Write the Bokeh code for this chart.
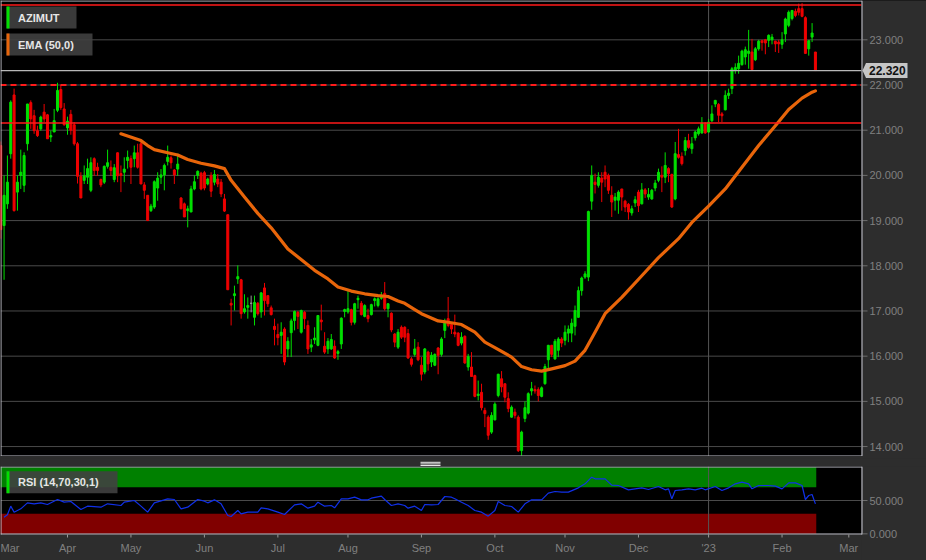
from bokeh.core.properties import value
from bokeh.embed import file_html
from bokeh.layouts import column
from bokeh.models import ColumnDataSource, Label, Range1d, Span
from bokeh.plotting import figure
from bokeh.resources import INLINE

# ---------------------------------------------------------------- data
# x is the trading-day index, 0 = 1 Mar 2022 (Borsa Italiana sessions)
first_idx = 3

opens = [
    20.66, 18.89, 19.37, 20.48, 21.78, 19.63, 20.00, 19.78, 20.70, 21.61,
    21.32, 20.99, 21.03, 21.40, 21.34, 20.85, 20.96, 21.44, 21.90, 21.47,
    21.05, 21.35, 21.12, 20.70, 19.98, 19.89, 19.96, 19.67, 20.37, 20.18,
    19.91, 19.85, 20.20, 20.18, 19.91, 20.50, 20.04, 20.07, 20.33, 20.37,
    20.37, 20.50, 20.70, 19.79, 19.56, 19.22, 19.30, 19.72, 19.96, 20.01,
    20.31, 20.39, 20.12, 20.14, 19.50, 19.37, 19.22, 19.19, 19.70, 20.00,
    20.05, 20.06, 19.81, 20.00, 19.85, 19.92, 19.85, 19.48, 19.13, 17.17,
    17.34, 17.71, 17.69, 16.98, 17.08, 17.17, 16.86, 17.17, 16.98, 17.51,
    17.34, 17.07, 16.66, 16.48, 16.46, 16.60, 16.16, 16.52, 16.79, 16.97,
    16.53, 16.97, 16.68, 16.20, 16.36, 16.24, 16.80, 16.22, 16.16, 16.16,
    16.22, 16.06, 16.27, 16.99, 16.98, 17.03, 16.75, 17.25, 17.17, 16.88,
    16.90, 16.92, 17.23, 17.12, 17.28, 17.39, 17.05, 16.95, 16.49, 16.20,
    16.64, 16.64, 16.50, 15.94, 16.04, 16.20, 15.80, 15.65, 16.09, 15.87,
    15.80, 16.18, 16.04, 16.57, 16.83, 16.70, 16.53, 16.51, 16.29, 16.44,
    15.76, 15.76, 15.57, 15.13, 15.20, 14.80, 14.65, 14.32, 14.59, 15.13,
    15.50, 15.39, 15.06, 14.65, 14.76, 14.65, 13.91, 14.62, 14.74, 15.23,
    15.26, 15.26, 15.11, 15.39, 15.92, 16.24, 15.94, 16.13, 16.38, 16.35,
    16.51, 16.51, 16.66, 16.86, 17.45, 17.75, 17.75, 19.43, 19.85, 19.78,
    19.94, 20.07, 20.00, 19.56, 19.45, 19.45, 19.70, 19.43, 19.36, 19.17,
    19.39, 19.63, 19.37, 19.68, 19.52, 19.48, 19.72, 19.89, 20.00, 19.96,
    20.15, 20.02, 19.48, 20.46, 20.42, 20.55, 20.77, 20.59, 20.83, 20.92,
    20.94, 21.16, 20.96, 21.21, 21.58, 21.57, 21.36, 21.45, 21.77, 21.92,
    22.32, 22.36, 22.45, 22.62, 22.70, 22.73, 22.56, 22.80, 22.98, 23.00,
    22.99, 23.00, 22.97, 22.95, 22.90, 23.13, 23.32, 23.47, 23.63, 23.69,
    23.69, 23.49, 22.80, 23.06, 22.73,
]
highs = [
    20.75, 20.00, 20.44, 21.66, 21.92, 20.00, 20.57, 20.51, 21.58, 21.66,
    21.45, 21.10, 21.32, 21.58, 21.36, 20.99, 21.47, 22.05, 22.00, 21.60,
    21.30, 21.45, 21.18, 20.74, 20.07, 20.22, 20.37, 20.40, 20.40, 20.28,
    19.93, 20.22, 20.57, 20.33, 20.25, 20.51, 20.22, 20.40, 20.55, 20.44,
    20.66, 20.70, 20.74, 19.85, 19.56, 19.37, 19.89, 20.07, 20.14, 20.26,
    20.66, 20.44, 20.14, 20.48, 19.52, 19.40, 19.33, 19.77, 20.00, 20.11,
    20.08, 20.10, 19.95, 20.07, 20.12, 20.03, 19.92, 19.59, 19.13, 17.27,
    17.56, 18.01, 17.71, 17.37, 17.30, 17.34, 17.34, 17.20, 17.42, 17.62,
    17.34, 17.12, 16.83, 16.72, 16.75, 16.64, 16.42, 16.83, 17.01, 17.00,
    17.03, 17.00, 16.79, 16.38, 16.64, 16.90, 17.14, 16.53, 16.40, 16.49,
    16.35, 16.14, 16.86, 17.05, 17.44, 17.05, 17.18, 17.34, 17.22, 17.15,
    17.05, 17.16, 17.30, 17.30, 17.42, 17.64, 17.17, 16.97, 16.51, 16.60,
    16.68, 16.66, 16.60, 15.98, 16.38, 16.31, 15.98, 16.18, 16.12, 16.09,
    16.06, 16.20, 16.42, 16.83, 17.31, 16.75, 16.92, 16.53, 16.53, 16.46,
    16.05, 16.09, 15.59, 15.46, 15.39, 14.86, 14.69, 14.76, 14.98, 15.61,
    15.67, 15.39, 15.20, 14.91, 14.84, 14.69, 14.35, 15.00, 15.20, 15.43,
    15.35, 15.31, 15.33, 15.83, 16.25, 16.25, 16.38, 16.42, 16.42, 16.68,
    16.68, 16.83, 17.12, 17.54, 17.76, 17.88, 19.22, 20.22, 20.04, 20.07,
    20.07, 20.22, 20.04, 19.76, 19.61, 19.67, 19.70, 19.46, 19.39, 19.33,
    19.54, 19.68, 19.83, 19.72, 19.72, 19.70, 19.90, 20.15, 20.20, 20.51,
    20.18, 20.04, 20.74, 21.03, 20.51, 20.85, 20.92, 20.85, 20.99, 21.08,
    21.29, 21.18, 21.25, 21.55, 21.67, 21.60, 21.40, 21.88, 21.92, 22.40,
    22.48, 22.65, 22.78, 22.85, 23.22, 23.02, 22.84, 23.00, 23.00, 23.02,
    23.12, 23.13, 22.98, 23.00, 23.17, 23.49, 23.65, 23.66, 23.69, 23.80,
    23.81, 23.52, 22.99, 23.37, 22.73,
]
lows = [
    18.60, 17.69, 19.26, 20.37, 19.20, 19.22, 19.70, 19.63, 20.55, 21.03,
    20.92, 20.85, 20.99, 21.18, 20.81, 20.74, 20.96, 21.40, 21.45, 21.10,
    20.90, 20.90, 20.66, 19.82, 19.50, 19.81, 19.81, 19.63, 19.99, 19.99,
    19.74, 19.81, 20.15, 19.99, 19.85, 19.85, 19.63, 19.85, 20.15, 19.81,
    20.18, 20.15, 19.81, 19.48, 19.00, 19.19, 19.26, 19.44, 19.81, 19.67,
    20.22, 20.15, 19.81, 19.99, 19.26, 19.08, 18.85, 19.19, 19.67, 19.92,
    19.67, 19.67, 19.78, 19.52, 19.78, 19.74, 19.52, 19.19, 17.47, 16.68,
    17.01, 17.60, 16.83, 16.94, 16.83, 16.97, 16.68, 16.90, 16.85, 16.90,
    17.09, 16.90, 16.24, 16.24, 16.05, 15.80, 15.98, 15.98, 16.57, 16.60,
    16.50, 16.60, 16.05, 16.09, 16.27, 16.22, 16.57, 16.05, 16.05, 16.14,
    15.94, 15.92, 16.16, 16.86, 16.94, 16.68, 16.70, 17.05, 16.90, 16.86,
    16.75, 16.90, 17.10, 17.08, 17.25, 17.01, 16.86, 16.53, 16.20, 16.16,
    16.38, 16.31, 15.94, 15.77, 15.99, 15.89, 15.46, 15.60, 15.68, 15.76,
    15.78, 15.60, 15.99, 16.40, 16.64, 16.49, 16.42, 16.22, 16.24, 15.83,
    15.68, 15.54, 15.09, 15.02, 14.80, 14.43, 14.15, 14.28, 14.58, 15.09,
    15.20, 14.98, 14.76, 14.64, 14.62, 13.88, 13.80, 14.54, 14.71, 15.13,
    15.17, 15.00, 15.09, 15.37, 15.72, 15.98, 15.92, 15.98, 16.20, 16.24,
    16.31, 16.31, 16.46, 16.85, 17.34, 17.71, 17.66, 19.24, 19.60, 19.73,
    19.41, 19.74, 19.59, 19.08, 19.22, 19.15, 19.22, 19.19, 19.02, 19.11,
    19.30, 19.19, 19.36, 19.50, 19.46, 19.46, 19.65, 19.85, 19.63, 19.83,
    19.85, 19.28, 19.45, 20.37, 20.22, 20.44, 20.59, 20.48, 20.77, 20.88,
    20.92, 20.92, 20.94, 21.18, 21.51, 21.18, 21.18, 21.44, 21.69, 21.80,
    22.25, 22.25, 22.43, 22.45, 22.36, 22.32, 22.53, 22.76, 22.76, 22.68,
    22.84, 22.90, 22.73, 22.71, 22.80, 22.95, 23.28, 23.43, 23.50, 23.54,
    23.50, 22.69, 22.65, 22.95, 22.32,
]
closes = [
    18.80, 19.56, 19.85, 21.62, 19.22, 19.85, 20.07, 20.44, 21.58, 21.25,
    20.99, 20.88, 21.29, 21.25, 20.81, 20.88, 21.21, 21.88, 21.50, 21.12,
    21.20, 21.00, 20.70, 19.98, 19.50, 19.99, 20.15, 20.28, 20.11, 20.11,
    19.79, 20.20, 20.28, 20.11, 20.17, 19.99, 20.00, 20.14, 20.40, 20.18,
    20.50, 20.18, 19.81, 19.67, 19.00, 19.32, 19.86, 19.94, 20.01, 20.22,
    20.40, 20.28, 20.01, 20.25, 19.26, 19.08, 19.26, 19.70, 19.86, 20.09,
    19.70, 19.72, 19.92, 19.65, 20.02, 19.81, 19.59, 19.21, 17.47, 17.13,
    17.38, 17.76, 16.94, 17.05, 17.12, 17.17, 17.19, 16.94, 17.40, 17.23,
    17.16, 16.92, 16.59, 16.41, 16.53, 15.87, 16.33, 16.78, 16.99, 16.88,
    17.01, 16.83, 16.16, 16.25, 16.40, 16.90, 16.76, 16.09, 16.33, 16.37,
    15.96, 16.10, 16.84, 17.03, 17.05, 16.75, 17.16, 17.28, 16.92, 17.12,
    16.83, 17.14, 17.27, 17.27, 17.30, 17.05, 17.16, 16.58, 16.31, 16.53,
    16.42, 16.42, 15.96, 15.82, 16.16, 15.92, 15.60, 16.16, 15.83, 16.02,
    16.04, 16.02, 16.38, 16.75, 16.68, 16.60, 16.49, 16.24, 16.42, 15.85,
    15.99, 15.55, 15.11, 15.16, 14.86, 14.73, 14.25, 14.69, 14.94, 15.60,
    15.32, 15.09, 14.84, 14.87, 14.69, 13.91, 14.32, 14.86, 15.17, 15.28,
    15.23, 15.13, 15.30, 15.77, 16.24, 16.04, 16.33, 16.38, 16.29, 16.53,
    16.60, 16.73, 17.01, 17.45, 17.73, 17.82, 19.20, 20.00, 19.80, 19.96,
    19.85, 19.92, 19.67, 19.41, 19.52, 19.63, 19.52, 19.30, 19.19, 19.26,
    19.46, 19.33, 19.68, 19.59, 19.58, 19.67, 19.83, 20.07, 19.96, 20.22,
    20.04, 19.30, 20.48, 20.40, 20.26, 20.77, 20.62, 20.70, 20.96, 21.03,
    21.16, 20.94, 21.18, 21.36, 21.66, 21.33, 21.32, 21.77, 21.82, 22.36,
    22.39, 22.48, 22.75, 22.78, 22.75, 22.34, 22.80, 22.97, 22.94, 22.93,
    23.10, 23.06, 22.91, 22.91, 23.00, 23.46, 23.61, 23.65, 23.54, 23.61,
    23.52, 22.70, 22.98, 23.15, 22.32,
]

# EMA(50) of the close
ema_idx = [39, 43, 45, 47, 49, 53, 56, 59, 63, 67, 70, 72, 76, 80, 84, 89, 94, 97,
           101, 104, 108, 112, 116, 119, 122, 124, 127, 129, 134, 137, 141, 145,
           148, 151, 156, 159, 162, 165, 168, 172, 175, 178, 181, 184, 189, 195,
           200, 206, 210, 215, 220, 225, 230, 235, 239, 243, 246, 247]
ema_val = [20.92, 20.82, 20.77, 20.66, 20.57, 20.50, 20.45, 20.35, 20.27, 20.21,
           20.15, 19.89, 19.52, 19.16, 18.84, 18.37, 18.08, 17.90, 17.71, 17.53,
           17.44, 17.38, 17.34, 17.32, 17.22, 17.17, 17.03, 16.94, 16.78, 16.75,
           16.70, 16.53, 16.31, 16.19, 15.98, 15.77, 15.70, 15.67, 15.72, 15.79,
           15.89, 16.13, 16.53, 16.94, 17.30, 17.78, 18.18, 18.60, 18.96, 19.32,
           19.70, 20.18, 20.66, 21.10, 21.46, 21.71, 21.84, 21.87]

# RSI(14)
rsi_idx = [4, 5, 6, 7, 9, 11, 13, 15, 17, 20, 22, 24, 27, 29, 33, 35, 39, 40, 43, 45,
           47, 49, 53, 55, 57, 59, 62, 64, 65, 67, 69, 71, 72, 74, 75, 77, 80, 81, 83, 86,
           88, 91, 93, 95, 97, 98, 100, 102, 103, 105, 107, 109, 111, 113, 114, 117, 118,
           120, 122, 124, 125, 127, 129, 130, 132, 134, 136, 138, 139, 141, 143, 145, 147,
           149, 151, 152, 154, 156, 158, 160, 162, 165, 167, 169, 171, 173, 176, 178, 180,
           181, 184, 186, 188, 191, 193, 195, 197, 200, 202, 203, 204, 205, 207, 209, 211,
           213, 214, 217, 219, 221, 223, 225, 227, 228, 230, 233, 235, 237, 239, 241, 243,
           244, 245, 246, 247]
rsi_val = [25, 28.5, 41.5, 32.5, 37.5, 46.5, 45, 46.5, 44, 51.5, 47.5, 48.5, 36.5, 41.5,
           40, 45, 42.5, 47.5, 50, 41.5, 32.5, 46.5, 52.5, 51.5, 37.5, 40, 51.5, 49, 46.5,
           51, 45, 27.5, 26, 35, 30, 32.5, 32.5, 39, 37.5, 32.5, 29, 43.5, 45, 38.5, 41.5,
           47.5, 41.5, 42.5, 39, 52.5, 52.5, 55, 51, 51, 53.5, 56.5, 51.5, 42.5, 45, 42.5,
           38.5, 41.5, 35, 44, 43.5, 44, 56, 55, 52.5, 47.5, 42.5, 35, 32.5, 26.5, 35, 48.5,
           42.5, 41, 32.5, 45, 51, 51, 61, 63.5, 62.5, 62.5, 69, 75, 85, 82.5, 82.5, 73,
           72.5, 66, 67.5, 69, 66.5, 71, 66, 67.5, 52.5, 65, 66, 67.5, 66, 68.5, 66, 71,
           65, 69, 75, 77.5, 75, 67.5, 72.5, 72.5, 71.5, 67.5, 76.5, 76.5, 72.5, 51.5,
           57.5, 59, 45]
rsi_upper, rsi_lower = 70, 30

# horizontal levels drawn on the price panel
solid_levels = [23.77, 21.16]
dashed_levels = [22.0]

# axes
price_ticks = [14, 15, 16, 17, 18, 19, 20, 21, 22, 23]
rsi_ticks = [0, 50]
month_ticks = [23, 42, 64, 86, 107, 129, 151, 172, 194, 215, 237, 257]
month_labels = ["Apr", "May", "Jun", "Jul", "Aug", "Sep", "Oct", "Nov", "Dec",
                "'23", "Feb", "Mar"]
first_month_label = "Mar"
year_start_idx = 215

# ---------------------------------------------------------------- layout
FONT = "Liberation Sans"
W = 926
FRAME_W = 861          # width of the chart area; the rest is the value column
MAIN_H = 456
SEP_H = 10
RSI_PANEL_H = 68
AXIS_H = 26
X0, X1 = 2.93, 260.8   # index range across the chart area
Y0, Y1 = 13.78, 23.87
R0, R1 = -1.0, 101.0

BG = "#2d2d2d"
UP, DOWN, FLAT = "#00e000", "#ee0000", "#9a9a9a"
GRID = "#4a4a4a"
OUTLINE = "#c8c8d2"
LABEL = "#808080"
TICK = "#6e6e6e"
SEPARATOR = "#555555"


def mx(px):
    return X0 + px * (X1 - X0) / FRAME_W


def my(py):
    return Y1 - py * (Y1 - Y0) / MAIN_H


def ry(py):
    return R1 - py * (R1 - R0) / RSI_PANEL_H


def dy(px):
    """price span of px pixels on the main panel"""
    return px * (Y1 - Y0) / MAIN_H


def bare_figure(height, x_range, y_range, bg):
    f = figure(width=W, height=height, x_range=x_range, y_range=y_range,
               output_backend="svg", toolbar_location=None,
               x_axis_location=None, y_axis_location=None,
               min_border_left=0, min_border_right=0, min_border_top=0,
               min_border_bottom=0, background_fill_color=bg, border_fill_color=BG,
               outline_line_color=None)
    f.grid.visible = False
    return f


x_left, x_right = X0, mx(FRAME_W)


def frame_border(fig, fy, height):
    fig.segment(x0=[mx(0.5), x_left, x_left, mx(FRAME_W + 0.5)],
                y0=[fy(0), fy(0.5), fy(height - 0.5), fy(0)],
                x1=[mx(0.5), mx(FRAME_W + 0.5), mx(FRAME_W + 0.5), mx(FRAME_W + 0.5)],
                y1=[fy(height), fy(0.5), fy(height - 0.5), fy(height)],
                line_color=OUTLINE, line_width=1)


def value_column(fig, fy_top, fy_bottom, ticks, font_size="11px"):
    fig.quad(left=[x_right], right=[mx(W)], bottom=[fy_bottom], top=[fy_top],
             fill_color=BG, line_color=None)
    fig.segment(x0=[mx(FRAME_W + 1)] * len(ticks), y0=ticks,
                x1=[mx(FRAME_W + 6)] * len(ticks), y1=ticks,
                line_color=TICK, line_width=1)
    fig.text(x=[mx(FRAME_W + 8)] * len(ticks), y=ticks,
             text=[f"{t:.3f}" for t in ticks],
             text_font=value(FONT), text_font_size=value(font_size), text_color=LABEL,
             text_baseline="middle", text_align="left")


def legend_box(fig, fx, fy, left, top, right, bottom, bar_color, text):
    fig.quad(left=[fx(left)], right=[fx(right)], top=[fy(top)], bottom=[fy(bottom)],
             fill_color="#404040", fill_alpha=0.9, line_color=None)
    fig.quad(left=[fx(left)], right=[fx(left + 3)], top=[fy(top)], bottom=[fy(bottom)],
             fill_color=bar_color, line_color=None)
    fig.add_layout(Label(x=fx(left + 11.5), y=fy((top + bottom) / 2), text=text,
                         text_font=FONT, text_font_size="11px", text_font_style="bold",
                         text_color="#e6e6e6", text_baseline="middle", text_align="left"))


# ---------------------------------------------------------------- price panel
p = bare_figure(MAIN_H, Range1d(X0, mx(W)), Range1d(Y0, Y1), "black")

p.segment(x0=[x_left] * len(price_ticks), y0=price_ticks,
          x1=[x_right] * len(price_ticks), y1=price_ticks, line_color=GRID, line_width=1)
p.segment(x0=[year_start_idx], y0=[Y0], x1=[year_start_idx], y1=[Y1],
          line_color=SEPARATOR, line_width=1)

idx = list(range(first_idx, first_idx + len(closes)))
colors = [UP if c > o else DOWN if c < o else FLAT for o, c in zip(opens, closes)]
src = ColumnDataSource(dict(
    x=idx, h=highs, l=lows,
    top=[max(o, c) for o, c in zip(opens, closes)],
    bot=[min(o, c) for o, c in zip(opens, closes)],
    color=colors,
))
p.segment(x0="x", y0="h", x1="x", y1="l", line_color="color", line_width=1, source=src)
p.vbar(x="x", width=0.6, top="top", bottom="bot", fill_color="color",
       line_color="color", line_width=1, source=src)

p.line(ema_idx, ema_val, line_color="#e8650a", line_width=3.2, line_join="round",
       line_cap="round")

p.segment(x0=[x_left] * len(solid_levels), y0=solid_levels,
          x1=[x_right] * len(solid_levels), y1=solid_levels,
          line_color="#ff1a1a", line_width=1.5)
p.segment(x0=[x_left] * len(dashed_levels), y0=dashed_levels,
          x1=[x_right] * len(dashed_levels), y1=dashed_levels,
          line_color="#ff1a1a", line_width=2, line_dash="6 4")
last = closes[-1]
p.segment(x0=[x_left], y0=[last], x1=[x_right], y1=[last], line_color="#b8b8b8",
          line_width=1.2)

value_column(p, Y1, Y0, price_ticks)
frame_border(p, my, MAIN_H)

# last-price tag
tag_l, tag_r, half = FRAME_W + 4.5, FRAME_W + 46, dy(7.5)
p.patch(x=[mx(FRAME_W + 1), mx(tag_l), mx(tag_r), mx(tag_r), mx(tag_l)],
        y=[last, last + half, last + half, last - half, last - half],
        fill_color="#c6c6c6", line_color=None)
p.text(x=[mx(tag_l + 3)], y=[last], text=[f"{last:.3f}"],
       text_font=value(FONT), text_font_size=value("12px"), text_font_style="bold",
       text_color="#111111", text_baseline="middle", text_align="left")

legend_box(p, mx, my, 6, 6, 76, 28, UP, "AZIMUT")
legend_box(p, mx, my, 6, 33, 92, 55, "#e8650a", "EMA (50,0)")

# ---------------------------------------------------------------- splitter bar
sep = bare_figure(SEP_H, Range1d(0, W), Range1d(0, SEP_H), BG)
grip_y = [6.2, 4.6, 3.0, 1.4]
sep.segment(x0=[420] * 4, y0=grip_y, x1=[440] * 4, y1=grip_y,
            line_color="#e8e8e8", line_width=1)

# ---------------------------------------------------------------- RSI panel + dates
r = bare_figure(RSI_PANEL_H + AXIS_H, Range1d(X0, mx(W)),
                Range1d(ry(RSI_PANEL_H + AXIS_H), R1), BG)
r.quad(left=[x_left], right=[x_right], bottom=[R0], top=[R1], fill_color="black",
       line_color=None)

band_left = first_idx - 2
band_right = idx[-1] + 0.25
r.quad(left=[band_left], right=[band_right], bottom=[rsi_upper], top=[100],
       fill_color="#008000", line_color=None)
r.quad(left=[band_left], right=[band_right], bottom=[0], top=[rsi_lower],
       fill_color="#800000", line_color=None)
r.segment(x0=[x_left], y0=[50], x1=[x_right], y1=[50], line_color=GRID, line_width=1)
r.segment(x0=[year_start_idx], y0=[R0], x1=[year_start_idx], y1=[R1],
          line_color=SEPARATOR, line_width=1)
r.line(rsi_idx, rsi_val, line_color="#1030e8", line_width=1.2)

value_column(r, R1, ry(RSI_PANEL_H + AXIS_H), rsi_ticks)
frame_border(r, ry, RSI_PANEL_H)

legend_box(r, mx, ry, 6, 4.7, 117, 26.7, UP, "RSI (14,70,30,1)")

# month axis under the RSI panel
r.segment(x0=month_ticks, y0=[ry(RSI_PANEL_H)] * len(month_ticks),
          x1=month_ticks, y1=[ry(RSI_PANEL_H + 3)] * len(month_ticks),
          line_color="#9a9a9a", line_width=1)
r.text(x=month_ticks, y=[ry(RSI_PANEL_H + 13)] * len(month_ticks), text=month_labels,
       text_font=value(FONT), text_font_size=value("11px"), text_color=LABEL,
       text_baseline="middle", text_align="center")
# March 2022 starts left of the window; its name is pinned at the left edge
r.text(x=[mx(0)], y=[ry(RSI_PANEL_H + 13)], text=[first_month_label],
       text_font=value(FONT), text_font_size=value("11px"), text_color=LABEL,
       text_baseline="middle", text_align="left")

layout = column(p, sep, r, spacing=0)
layout.styles = {"background-color": BG}

open("out.html", "w").write(file_html(layout, INLINE))
